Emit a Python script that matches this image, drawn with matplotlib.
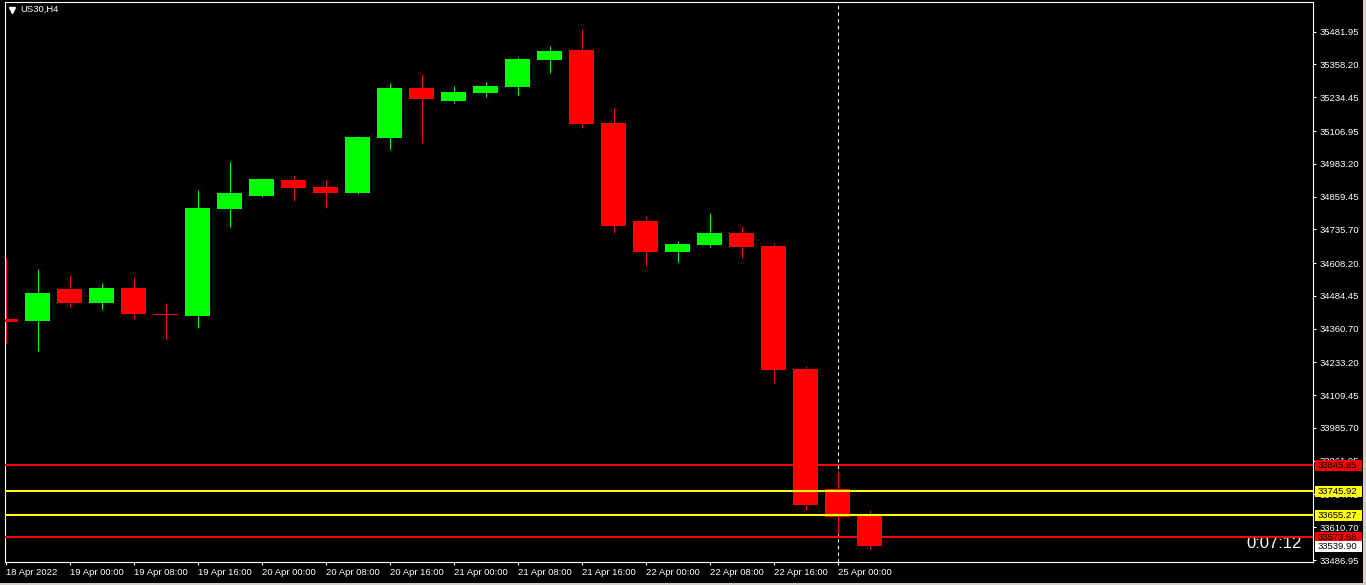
import matplotlib
matplotlib.use("Agg")
import matplotlib.pyplot as plt
import numpy as np
from matplotlib.patches import Rectangle
from matplotlib.transforms import blended_transform_factory

# --- chart data (US30, H4) ---
symbol = "US30,H4"
candle_times = [
    "18 Apr 16:00", "18 Apr 20:00",
    "19 Apr 00:00", "19 Apr 04:00", "19 Apr 08:00", "19 Apr 12:00", "19 Apr 16:00", "19 Apr 20:00",
    "20 Apr 00:00", "20 Apr 04:00", "20 Apr 08:00", "20 Apr 12:00", "20 Apr 16:00", "20 Apr 20:00",
    "21 Apr 00:00", "21 Apr 04:00", "21 Apr 08:00", "21 Apr 12:00", "21 Apr 16:00", "21 Apr 20:00",
    "22 Apr 00:00", "22 Apr 04:00", "22 Apr 08:00", "22 Apr 12:00", "22 Apr 16:00", "22 Apr 20:00",
    "25 Apr 00:00", "25 Apr 04:00",
]
open_prices = [34397.1, 34389.5, 34510.4, 34457.5, 34514.2, 34417.1, 34408.4, 34812.5,
               34861.6, 34922.0, 34895.5, 34872.9, 35080.5, 35269.4, 35220.3, 35250.5,
               35273.1, 35375.1, 35412.9, 35137.2, 34767.1, 34650.1, 34676.5, 34721.8,
               34672.7, 34208.3, 33755.2, 33653.3]
high_prices = [34627.4, 34585.9, 34563.2, 34533.0, 34555.7, 34457.5, 34884.2, 34989.9,
               34927.5, 34937.1, 34922.0, 35088.1, 35288.2, 35322.2, 35276.9, 35292.0,
               35386.4, 35427.9, 35492.1, 35193.8, 34786.0, 34691.6, 34797.4, 34748.3,
               34684.1, 34219.6, 33823.2, 33675.9]
low_prices = [34306.5, 34276.3, 34442.4, 34434.9, 34397.1, 34321.6, 34364.3, 34744.5,
              34857.8, 34842.7, 34816.2, 34869.1, 35039.0, 35061.7, 35212.7, 35235.4,
              35242.9, 35326.0, 35118.3, 34721.8, 34597.2, 34612.3, 34669.0, 34627.4,
              34155.4, 33675.9, 33585.3, 33528.7]
close_prices = [34385.8, 34495.3, 34457.5, 34514.2, 34416.0, 34412.2, 34816.2, 34872.9,
                34925.7, 34891.7, 34872.9, 35084.3, 35269.4, 35227.8, 35254.3, 35276.9,
                35378.9, 35409.1, 35133.4, 34748.3, 34650.1, 34680.3, 34721.8, 34669.0,
                34204.5, 33694.8, 33649.5, 33539.90]

tick_times = ["18 Apr 16:00", "19 Apr 00:00", "19 Apr 08:00", "19 Apr 16:00", "20 Apr 00:00",
              "20 Apr 08:00", "20 Apr 16:00", "21 Apr 00:00", "21 Apr 08:00", "21 Apr 16:00",
              "22 Apr 00:00", "22 Apr 08:00", "22 Apr 16:00", "25 Apr 00:00"]
tick_labels = ["18 Apr 2022", "19 Apr 00:00", "19 Apr 08:00", "19 Apr 16:00", "20 Apr 00:00",
               "20 Apr 08:00", "20 Apr 16:00", "21 Apr 00:00", "21 Apr 08:00", "21 Apr 16:00",
               "22 Apr 00:00", "22 Apr 08:00", "22 Apr 16:00", "25 Apr 00:00"]
price_ticks = [35481.95, 35358.20, 35234.45, 35106.95, 34983.20, 34859.45, 34735.70,
               34608.20, 34484.45, 34360.70, 34233.20, 34109.45, 33985.70, 33861.95,
               33734.45, 33610.70, 33486.95]
level_prices = [33845.65, 33745.92, 33655.27, 33573.68]
level_colors = ["#ff0000", "#ffff00", "#ffff00", "#ff0000"]
separator_time = "25 Apr 00:00"
countdown = "0:07:12"

# --- layout (pixels of a 1366x585 canvas) ---
W, H = 1366, 585
LEFT, RIGHT, TOP, BOTTOM = 4.5, 1313, 2, 562
CANDLE_STEP, FIRST_X = 32, 5.5
Y_MIN, Y_MAX = 33479.5, 35594.1
BULL, BEAR = "#00ff00", "#ff0000"
FONT = "Liberation Sans"

plt.rcParams["font.family"] = [FONT, "DejaVu Sans"]

fig = plt.figure(figsize=(W / 100, H / 100), dpi=100, facecolor="black")
ax = fig.add_axes([LEFT / W, 1 - BOTTOM / H, (RIGHT - LEFT) / W, (BOTTOM - TOP) / H])
ax.set_facecolor("black")

x = np.arange(len(candle_times))
o = np.array(open_prices)
c = np.array(close_prices)
colors = [BULL if cc >= oo else BEAR for oo, cc in zip(o, c)]

ax.vlines(x, low_prices, high_prices, colors=colors, linewidth=0.75, zorder=2)
ax.bar(x, np.abs(c - o), bottom=np.minimum(o, c), width=25 / CANDLE_STEP,
       color=colors, linewidth=0, zorder=3)

for price, col in zip(level_prices, level_colors):
    ax.axhline(price, color=col, linewidth=1.5, zorder=4)

ax.axvline(candle_times.index(separator_time), color="white", linewidth=0.8,
           dashes=(3, 3), zorder=1)

ax.set_xlim((LEFT - FIRST_X) / CANDLE_STEP, (RIGHT - FIRST_X) / CANDLE_STEP)
ax.set_ylim(Y_MIN, Y_MAX)

ax.set_xticks([candle_times.index(t) for t in tick_times])
ax.set_xticklabels(tick_labels)
for lab in ax.get_xticklabels():
    lab.set_horizontalalignment("left")
ax.yaxis.tick_right()
ax.set_yticks(price_ticks)
ax.set_yticklabels([f"{p:.2f}" for p in price_ticks])
ax.tick_params(axis="both", colors="white", labelcolor="white", labelsize=6.8,
               length=2.5, width=0.8, direction="out")
ax.tick_params(axis="x", pad=2)
ax.tick_params(axis="y", pad=2.5)
for spine in ax.spines.values():
    spine.set_color("white")
    spine.set_linewidth(0.8)

# price labels on the right scale
px_w = RIGHT - LEFT
px_price = (Y_MAX - Y_MIN) / (BOTTOM - TOP)
trans = blended_transform_factory(ax.transAxes, ax.transData)
labels = list(zip(level_prices, level_colors)) + [(close_prices[-1], "#ffffff")]
for price, col in labels:
    ax.add_patch(Rectangle((1 + 2 / px_w, price - 5.5 * px_price), 47 / px_w, 11 * px_price,
                           transform=trans, facecolor=col, edgecolor="none",
                           clip_on=False, zorder=5))
    ax.text(1 + 5 / px_w, price, f"{price:.2f}", transform=trans, color="black",
            fontsize=6.8, va="center", ha="left", clip_on=False, zorder=6)

# symbol caption and bar countdown
ax.plot([(12 - LEFT) / px_w], [(BOTTOM - 9.5) / (BOTTOM - TOP)], marker="v",
        markersize=4, color="white", transform=ax.transAxes, clip_on=False, zorder=6)
ax.text((20 - LEFT) / px_w, (BOTTOM - 9.5) / (BOTTOM - TOP), symbol, color="white",
        fontsize=6.8, va="center", ha="left", transform=ax.transAxes)
ax.text((1302 - LEFT) / px_w, (BOTTOM - 543) / (BOTTOM - TOP), countdown, color="white",
        fontsize=12, va="center", ha="right", transform=ax.transAxes)

# window border strips
fig.add_artist(Rectangle((0, 0), 1, 2.5 / H, transform=fig.transFigure,
                         facecolor="#d4d0c8", edgecolor="none"))
fig.add_artist(Rectangle((1363 / W, 0), 3 / W, 1, transform=fig.transFigure,
                         facecolor="#d4d0c8", edgecolor="none"))

fig.savefig("out.png", dpi=100, facecolor="black")
